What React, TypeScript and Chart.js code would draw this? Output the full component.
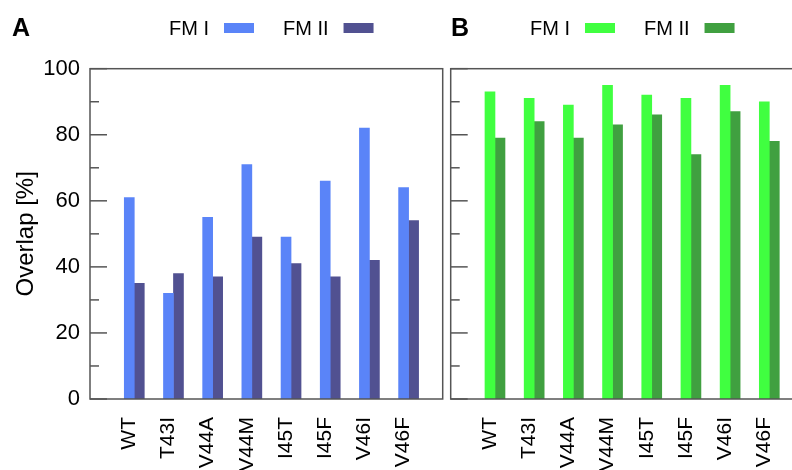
import { useEffect, useRef } from 'react';
import { Chart, registerables } from 'chart.js';

Chart.register(...registerables);

const FONT = "'Liberation Sans', Arial, Helvetica, sans-serif";

// Mutant labels shared by both panels
const mutants = ['WT', 'T43I', 'V44A', 'V44M', 'I45T', 'I45F', 'V46I', 'V46F'];
const seriesNames = ['FM I', 'FM II'];

// Panel A: overlap [%]
const overlapA_FM1 = [61, 32, 55, 71, 49, 66, 82, 64];
const overlapA_FM2 = [35, 38, 37, 49, 41, 37, 42, 54];

// Panel B: overlap [%]
const overlapB_FM1 = [93, 91, 89, 95, 92, 91, 95, 90];
const overlapB_FM2 = [79, 84, 79, 83, 86, 74, 87, 78];

const yMin = 0;
const yMax = 100;
const yMajorStep = 20;
const yMinorStep = 10;

// Draws the closed frame, inward y ticks, the key and the panel letter
const framePlugin = {
  id: 'frame',
  afterDraw(chart: any, _args: any, opts: any) {
    const { ctx, chartArea: a, scales } = chart;
    const ys = scales.y;
    ctx.save();
    ctx.strokeStyle = '#555555';
    ctx.lineWidth = 1.5;
    for (let v = yMin; v <= yMax; v += yMinorStep) {
      const py = ys.getPixelForValue(v);
      const len = v % yMajorStep === 0 ? 17 : 9;
      ctx.beginPath();
      ctx.moveTo(a.left, py);
      ctx.lineTo(a.left + len, py);
      ctx.stroke();
    }
    ctx.strokeRect(a.left, a.top, a.right - a.left, a.bottom - a.top);

    // key: label followed by its swatch
    ctx.font = `20px ${FONT}`;
    ctx.textBaseline = 'middle';
    ctx.textAlign = 'left';
    let x = opts.legendX;
    chart.data.datasets.forEach((ds: any) => {
      ctx.fillStyle = '#000';
      ctx.fillText(ds.label, x, 29);
      const w = ctx.measureText(ds.label).width;
      ctx.fillStyle = ds.backgroundColor;
      ctx.fillRect(x + w + 15, 23, 30, 10);
      x += w + 15 + 30 + 29;
    });

    ctx.fillStyle = '#000';
    ctx.font = `bold 25px ${FONT}`;
    ctx.textBaseline = 'alphabetic';
    ctx.fillText(opts.letter, opts.letterX, 36);
    ctx.restore();
  },
};

type PanelProps = {
  letter: string;
  left: number;
  width: number;
  fm1: number[];
  fm2: number[];
  colors: [string, string];
  showY: boolean;
  yWidth: number;
  padRight: number;
  legendX: number;
  letterX: number;
};

function Panel(p: PanelProps) {
  const ref = useRef<HTMLCanvasElement | null>(null);

  useEffect(() => {
    if (!ref.current) return;
    const toPoints = (vals: number[]) => vals.map((v, i) => ({ x: i, y: v }));
    const chart = new Chart(ref.current, {
      type: 'bar',
      data: {
        datasets: [
          { label: seriesNames[0], data: toPoints(p.fm1), backgroundColor: p.colors[0], barThickness: 10 },
          { label: seriesNames[1], data: toPoints(p.fm2), backgroundColor: p.colors[1], barThickness: 10 },
        ],
      },
      options: {
        responsive: false,
        animation: false,
        layout: { padding: { top: 68.7, right: p.padRight, left: 0, bottom: 0 } },
        plugins: {
          legend: { display: false },
          tooltip: { enabled: false },
          frame: { legendX: p.legendX, letterX: p.letterX, letter: p.letter },
        } as any,
        scales: {
          x: {
            type: 'linear',
            bounds: 'data',
            offset: false,
            min: -1.13,
            max: 7.87,
            afterBuildTicks: (s: any) => {
              s.ticks = mutants.map((_, i) => ({ value: i }));
            },
            afterFit: (s: any) => {
              s.height = 71;
            },
            ticks: {
              autoSkip: false,
              minRotation: 90,
              maxRotation: 90,
              padding: 10,
              labelOffset: -5,
              color: '#000',
              font: { size: 21, family: FONT },
              callback: (v: any) => mutants[v as number] ?? '',
            },
            grid: { display: false },
            border: { display: false },
          },
          y: {
            min: yMin,
            max: yMax,
            afterFit: (s: any) => {
              s.width = p.yWidth;
            },
            ticks: {
              display: p.showY,
              stepSize: yMajorStep,
              padding: 10,
              color: '#000',
              font: { size: 22, family: FONT },
            },
            grid: { display: false, drawTicks: false },
            border: { display: false },
            title: {
              display: p.showY,
              text: 'Overlap [%]',
              color: '#000',
              font: { size: 24, family: FONT },
              padding: { top: 12, bottom: 0 },
            },
          },
        } as any,
      },
      plugins: [framePlugin],
    });
    return () => chart.destroy();
  }, []);

  return (
    <canvas
      ref={ref}
      width={p.width}
      height={470}
      style={{ position: 'absolute', left: p.left, top: 0, width: p.width, height: 470 }}
    />
  );
}

export default function App() {
  return (
    <div
      style={{
        position: 'fixed',
        left: 0,
        top: 0,
        width: 792,
        height: 470,
        overflow: 'hidden',
        background: '#fff',
      }}
    >
      <Panel
        letter="A"
        left={0}
        width={446}
        fm1={overlapA_FM1}
        fm2={overlapA_FM2}
        colors={['#5a84f8', '#515191']}
        showY={true}
        yWidth={90}
        padRight={3.3}
        legendX={169}
        letterX={12}
      />
      <Panel
        letter="B"
        left={446}
        width={360}
        fm1={overlapB_FM1}
        fm2={overlapB_FM2}
        colors={['#40ff40', '#40a040']}
        showY={false}
        yWidth={4.7}
        padRight={2.6}
        legendX={84}
        letterX={5}
      />
    </div>
  );
}
